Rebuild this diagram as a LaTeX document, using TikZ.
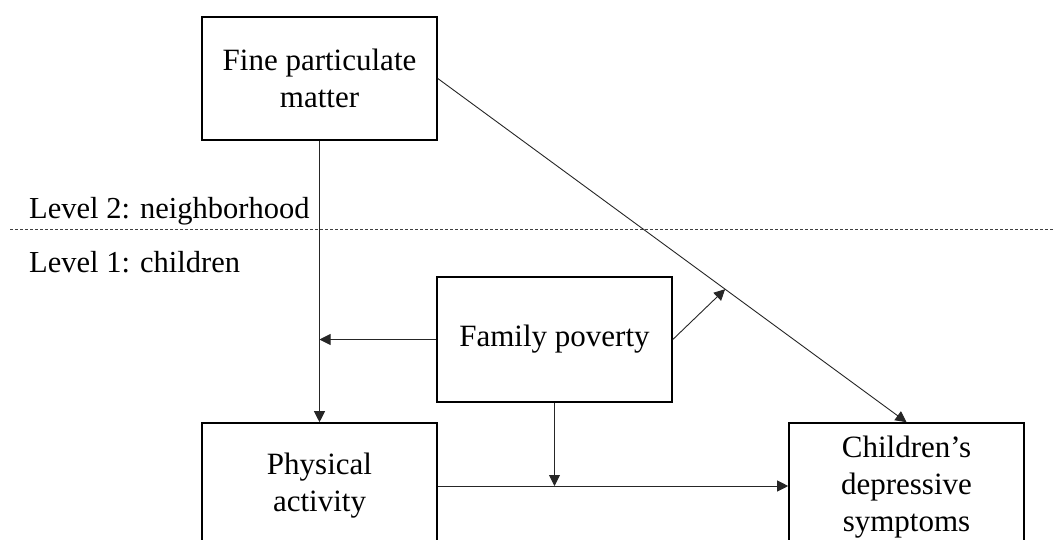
\documentclass[tikz,border=0pt]{standalone}
\usepackage{fontspec}
\setmainfont{Liberation Serif}
\usetikzlibrary{arrows.meta,calc}
\tikzstyle{varbox} = [draw=black, line width=1.6pt, fill=white, rectangle,
    minimum width=235pt, inner sep=0pt, align=center,
    font=\fontsize{31}{37}\selectfont]
\tikzstyle{path} = [draw=black!85, line width=0.9pt,
    -{Triangle[length=11pt,width=11pt]}]
\tikzstyle{levellabel} = [anchor=base west, inner sep=0pt,
    font=\fontsize{30.5}{36}\selectfont]

\begin{document}
\begin{tikzpicture}[x=1pt,y=-1pt]
                \useasboundingbox (0,0) rectangle (1055,539);
                % boxes
                \node [varbox, minimum height=123pt] (pm) at (319.5,78.5) {Fine particulate\\matter};
                \node [varbox, minimum height=125pt] (fp) at (554.5,339.5) {Family poverty};
                \node [varbox, minimum height=126pt] (pa) at (319.5,486) {Physical\\activity};
                \node [varbox, minimum height=128pt] (cds) at (906.5,487) {Children's\\depressive\\symptoms};
                % levels
                \coordinate (split west) at (10,229);
                \coordinate (split east) at (1055,229);
                \draw [black!75, line width=0.8pt, dash pattern=on 3pt off 2pt] (split west) -- (split east);
                \node [levellabel] (lvl2) at (29,218) {Level 2: neighborhood};
                \node [levellabel] (lvl1) at (29,272) {Level 1: children};
                % paths
                \coordinate (onpm) at ($(pm.east)!0.613!(cds.north)$);
                \draw [path] (pm.south) -- (pa.north);
                \draw [path] (pm.east) -- (cds.north);
                \draw [path] (fp.west) -- (fp.west -| pm.south);
                \draw [path] (fp.east) -- (onpm);
                \draw [path] (pa.east) -- (pa.east -| cds.west);
                \draw [path] (fp.south) -- (fp.south |- pa.east);
            \end{tikzpicture}
\end{document}
